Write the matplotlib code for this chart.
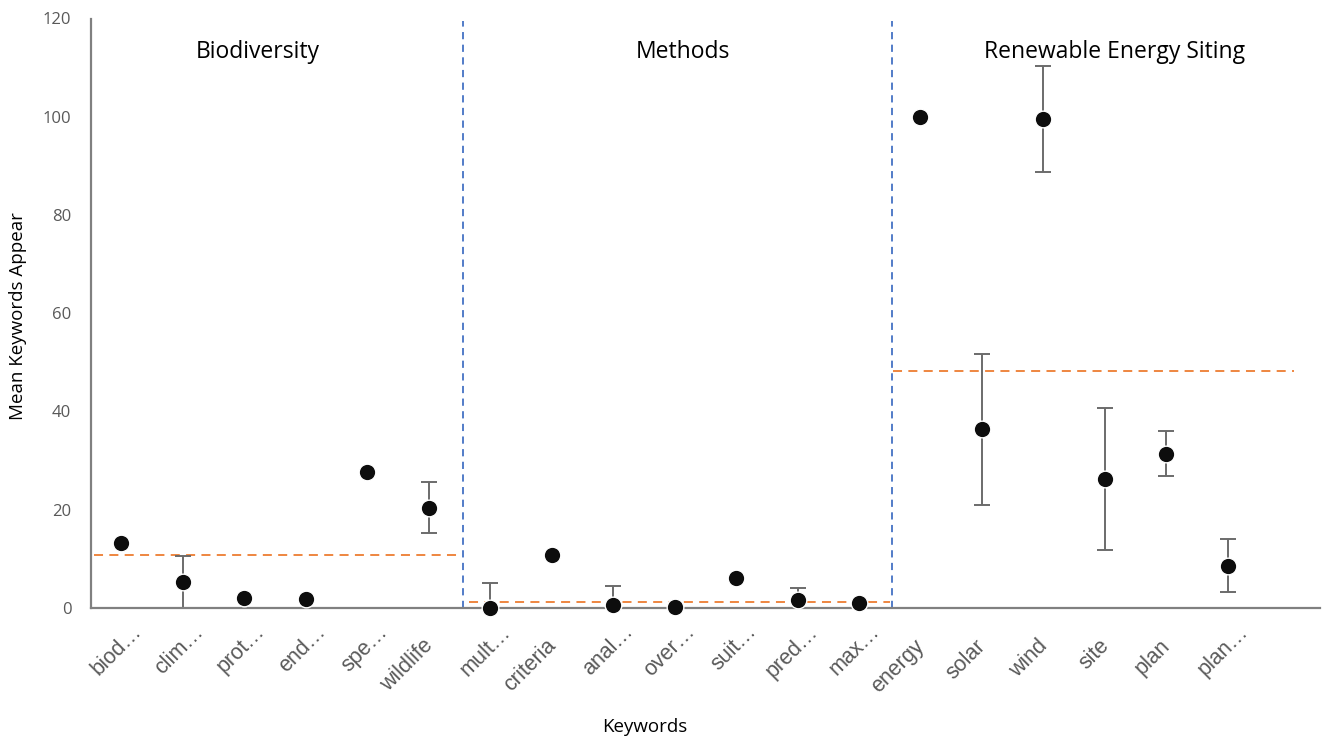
import matplotlib
matplotlib.use("Agg")
import matplotlib.pyplot as plt
import matplotlib.transforms as mtransforms
import numpy as np

keywords = ['biod…', 'clim…', 'prot…', 'end…', 'spe…', 'wildlife',
            'mult…', 'criteria', 'anal…', 'over…', 'suit…', 'pred…', 'max…',
            'energy', 'solar', 'wind', 'site', 'plan', 'plan…']
means = [13.2, 5.2, 2.0, 1.8, 27.6, 20.4,
         0.0, 10.8, 0.5, 0.1, 6.1, 1.6, 1.0,
         100.0, 36.3, 99.6, 26.2, 31.4, 8.5]
err_low = [None, 0.0, None, None, None, 15.3,
           0.0, None, 0.0, None, None, 0.0, None,
           None, 21.0, 88.8, 11.7, 26.8, 3.1]
err_high = [None, 10.6, None, None, None, 25.5,
            5.0, None, 4.5, None, None, 4.1, None,
            None, 51.7, 110.4, 40.7, 36.0, 14.0]
group_names = ['Biodiversity', 'Methods', 'Renewable Energy Siting']
group_means = [10.8, 1.1, 48.2]
yticks = [0, 20, 40, 60, 80, 100, 120]

fig = plt.figure(figsize=(13.22, 7.41), dpi=100)
ax = fig.add_axes([90.7 / 1322, (741 - 607.7) / 741, (1320 - 90.7) / 1322, (607.7 - 18.5) / 741])

x = np.arange(len(keywords))
m = np.array(means)
lo = np.array([np.nan if v is None else v for v in err_low])
hi = np.array([np.nan if v is None else v for v in err_high])
has = ~np.isnan(lo)
yerr = np.vstack([m[has] - lo[has], hi[has] - m[has]])
ax.errorbar(x[has], m[has], yerr=yerr, fmt='none', ecolor='#6b6b6b',
            elinewidth=1.4, capsize=6, capthick=1.4, zorder=2)
ax.plot(x, m, 'o', color='#0d0d0d', markersize=12, markeredgecolor='white',
        markeredgewidth=1.0, zorder=3, clip_on=False)

# group mean lines
spans = [(-0.45, 5.5), (5.65, 12.5), (12.55, 19.08)]
for (a, b), gm in zip(spans, group_means):
    ax.hlines(gm, a, b, colors='#ED7D31', linestyles=(0, (5, 3.5)), linewidth=1.3, zorder=1)

# separators
for xv in [5.55, 12.53]:
    ax.axvline(xv, ymin=0, ymax=0.995, color='#4472C4', linestyle=(0, (4, 3)), linewidth=1.3, zorder=1)

# group titles
title_x = [2.22, 9.14, 16.15]
for tx, name in zip(title_x, group_names):
    ax.text(tx, 113.2, name, ha='center', va='center', fontsize=16.5,
            family='Open Sans', color='black')

ax.set_xlim(-0.5, 19.5)
ax.set_ylim(0, 120)
ax.set_yticks(yticks)
ax.set_yticklabels([str(v) for v in yticks], family='Open Sans', fontsize=12, color='#595959')
ax.tick_params(axis='y', length=0, pad=14)
ax.set_xticks(x)
ax.set_xticklabels(keywords, rotation=45, ha='right', va='center', rotation_mode='anchor',
                   family='Liberation Sans', fontsize=15.5, color='#595959')
ax.tick_params(axis='x', length=0, pad=0)
for lab in ax.get_xticklabels():
    if lab.get_text().endswith('…'):
        dx, dy = 17, -21
    else:
        dx, dy = 1, -35
    off = mtransforms.ScaledTranslation(dx / 100, dy / 100, fig.dpi_scale_trans)
    lab.set_transform(lab.get_transform() + off)

for s in ['top', 'right']:
    ax.spines[s].set_visible(False)
for s in ['left', 'bottom']:
    ax.spines[s].set_color('#808080')
    ax.spines[s].set_linewidth(1.6)

fig.text(18 / 1322, 1 - 316 / 741, 'Mean Keywords Appear', rotation=90, ha='center', va='center',
         family='Open Sans', fontsize=13.5)
fig.text(645 / 1322, 1 - 727 / 741, 'Keywords', ha='center', va='center',
         family='Open Sans', fontsize=13.5)

fig.savefig('out.png', dpi=100)
